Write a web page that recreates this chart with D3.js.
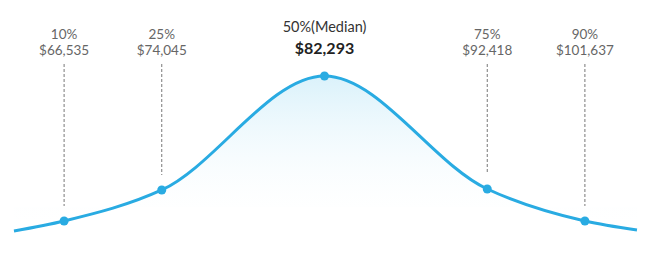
<!DOCTYPE html>
<html>
<head>
<meta charset="utf-8">
<script src="https://cdn.jsdelivr.net/npm/d3@7"></script>
<style>
  body { margin: 0; background: #fff; }
  svg { display: block; font-family: Lato, "Noto Sans", sans-serif; }
</style>
</head>
<body>
<div id="chart"></div>
<script>
// percentile markers
const percentiles = [10, 25, 50, 75, 90]
const percentLabels = ['10%', '25%', '50%(Median)', '75%', '90%']
const salaries = ['$66,535', '$74,045', '$82,293', '$92,418', '$101,637']
const markerHeights = [0.116, 0.305, 1, 0.311, 0.116]

// outline of the distribution (x in percentile, y relative height)
const curvePct = [2.3, 10, 25, 50, 75, 90, 98]
const curveHeight = [0.055, 0.116, 0.305, 1, 0.311, 0.116, 0.061]

const width = 655, height = 261
const blue = '#29abe2'

const svg = d3.select('#chart').append('svg')
  .attr('width', width)
  .attr('height', height)

const x = d3.scaleLinear().domain([0, 100]).range([-1, 650])
const y = d3.scaleLinear().domain([0, 1]).range([240, 76])

const curveData = curvePct.map((p, i) => ({p: p, v: curveHeight[i]}))

// fill gradient
const defs = svg.append('defs')
const grad = defs.append('linearGradient')
  .attr('id', 'bellFill')
  .attr('x1', 0).attr('y1', 0).attr('x2', 0).attr('y2', 1)
grad.append('stop').attr('offset', '0%').attr('stop-color', '#d6f0fa').attr('stop-opacity', 0.9)
grad.append('stop').attr('offset', '100%').attr('stop-color', '#ffffff').attr('stop-opacity', 0)

const area = d3.area()
  .x(d => x(d.p))
  .y0(y(0.2))
  .y1(d => y(d.v))
  .curve(d3.curveMonotoneX)

const line = d3.line()
  .x(d => x(d.p))
  .y(d => y(d.v))
  .curve(d3.curveMonotoneX)

svg.append('path')
  .datum(curveData)
  .attr('d', area)
  .attr('fill', 'url(#bellFill)')

// dashed guides
svg.selectAll('.guide')
  .data(percentiles.filter(p => p !== 50))
  .enter().append('line')
    .attr('class', 'guide')
    .attr('x1', d => x(d))
    .attr('x2', d => x(d))
    .attr('y1', 64)
    .attr('y2', d => y(markerHeights[percentiles.indexOf(d)]) - 15)
    .attr('stroke', '#777')
    .attr('stroke-width', 1)
    .attr('stroke-dasharray', '3,2')

svg.append('path')
  .datum(curveData)
  .attr('d', line)
  .attr('fill', 'none')
  .attr('stroke', blue)
  .attr('stroke-width', 3)

svg.selectAll('.marker')
  .data(percentiles)
  .enter().append('circle')
    .attr('class', 'marker')
    .attr('cx', d => x(d))
    .attr('cy', (d, i) => y(markerHeights[i]))
    .attr('r', 4.5)
    .attr('fill', blue)

// labels
const labels = svg.selectAll('.label')
  .data(percentiles)
  .enter().append('g')
    .attr('class', 'label')
    .attr('transform', d => `translate(${x(d)},0)`)

labels.append('text')
  .attr('text-anchor', 'middle')
  .attr('y', d => d === 50 ? 32 : 39)
  .attr('font-size', d => d === 50 ? 14.5 : 13.5)
  .attr('fill', d => d === 50 ? '#333' : '#666')
  .text((d, i) => percentLabels[i])

labels.append('text')
  .attr('text-anchor', 'middle')
  .attr('y', d => d === 50 ? 54 : 55)
  .attr('font-size', d => d === 50 ? 16 : 13.5)
  .attr('font-weight', d => d === 50 ? 'bold' : 'normal')
  .attr('fill', d => d === 50 ? '#222' : '#666')
  .text((d, i) => salaries[i])
</script>
</body>
</html>
